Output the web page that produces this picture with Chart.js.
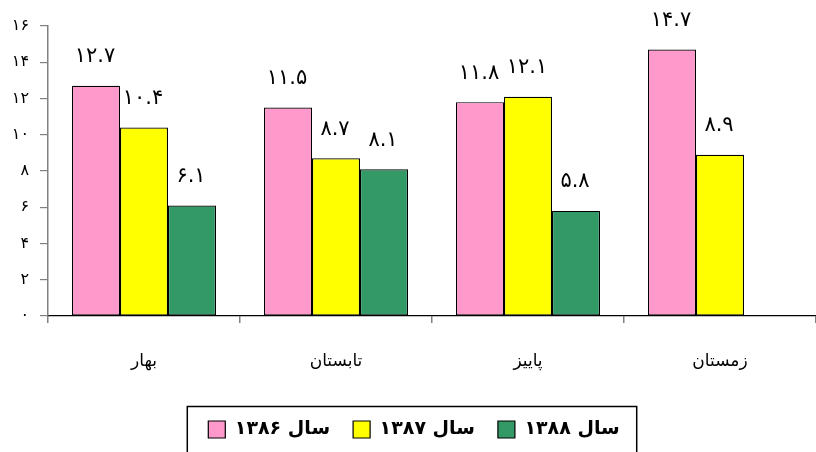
<!DOCTYPE html>
<html lang="fa">

<head>
    <meta charset="UTF-8">
    <title>Seasonal chart</title>
    <script src="https://cdn.jsdelivr.net/npm/chart.js"></script>
    <style>
        body {
            margin: 0;
            padding: 0;
            background: #ffffff;
        }

        #wrap {
            width: 816px;
            height: 452px;
        }
    </style>
</head>

<body>
    <div id="wrap">
        <canvas id="seasonChart" width="816" height="452"></canvas>
    </div>

    <script>
        // data
        const seasons = ['بهار', 'تابستان', 'پاییز', 'زمستان'];
        const yearLabels = ['سال ۱۳۸۶', 'سال ۱۳۸۷', 'سال ۱۳۸۸'];
        const values1386 = [12.7, 11.5, 11.8, 14.7];
        const values1387 = [10.4, 8.7, 12.1, 8.9];
        const values1388 = [6.1, 8.1, 5.8, null];
        const yTicks = [0, 2, 4, 6, 8, 10, 12, 14, 16];

        const barColors = ['#FF99CC', '#FFFF00', '#339966'];
        const faFont = "'DejaVu Sans', sans-serif";

        const toFa = (s) => String(s).replace(/\d/g, (d) => '۰۱۲۳۴۵۶۷۸۹'[d]);

        // value labels above each bar
        const barLabels = {
            id: 'barLabels',
            afterDatasetsDraw(chart) {
                const c = chart.ctx;
                c.save();
                c.font = '21px ' + faFont;
                c.fillStyle = '#000000';
                c.textAlign = 'center';
                c.textBaseline = 'middle';
                chart.data.datasets.forEach((ds, i) => {
                    const meta = chart.getDatasetMeta(i);
                    meta.data.forEach((bar, j) => {
                        const v = ds.data[j];
                        if (v === null || v === undefined) return;
                        c.fillText(toFa(v.toFixed(1)), bar.x - 1, bar.y - 29);
                    });
                });
                c.restore();
            }
        };

        // frame round the legend
        const legendFrame = {
            id: 'legendFrame',
            afterDraw(chart) {
                const boxes = chart.legend && chart.legend.legendHitBoxes;
                if (!boxes || !boxes.length) return;
                const first = boxes[0];
                const last = boxes[boxes.length - 1];
                const mid = first.top + first.height / 2;
                const c = chart.ctx;
                c.save();
                c.strokeStyle = '#000000';
                c.lineWidth = 1.5;
                c.strokeRect(first.left - 21, mid - 23, last.left + last.width - first.left + 38, 60);
                c.restore();
            }
        };

        const ctx = document.getElementById('seasonChart').getContext('2d');

        const chart = new Chart(ctx, {
            type: 'bar',
            data: {
                labels: seasons,
                datasets: [
                    { label: yearLabels[0], data: values1386, backgroundColor: barColors[0] },
                    { label: yearLabels[1], data: values1387, backgroundColor: barColors[1] },
                    { label: yearLabels[2], data: values1388, backgroundColor: barColors[2] },
                ].map((d) => Object.assign(d, {
                    borderColor: '#000000',
                    borderWidth: 1.2,
                    borderSkipped: false,
                    categoryPercentage: 0.75,
                    barPercentage: 1.0,
                })),
            },
            options: {
                responsive: false,
                animation: false,
                layout: {
                    padding: { top: 26, left: 12, right: 0, bottom: 3 },
                },
                scales: {
                    x: {
                        afterFit: (scale) => { scale.height = 81; },
                        grid: {
                            display: true,
                            offset: true,
                            drawOnChartArea: false,
                            drawTicks: true,
                            tickLength: 7,
                            color: '#808080',
                            lineWidth: 1.5,
                        },
                        border: { display: true, color: '#000000', width: 1.2 },
                        ticks: {
                            padding: 28,
                            color: '#000000',
                            font: { family: faFont, size: 17 },
                        },
                    },
                    y: {
                        min: 0,
                        max: 16,
                        afterFit: (scale) => { scale.width = 36; },
                        afterBuildTicks: (scale) => { scale.ticks = yTicks.map((v) => ({ value: v })); },
                        grid: {
                            display: true,
                            drawOnChartArea: false,
                            drawTicks: true,
                            tickLength: 8,
                            color: '#808080',
                            lineWidth: 1.2,
                        },
                        border: { display: true, color: '#808080', width: 1.5 },
                        ticks: {
                            padding: 11,
                            color: '#000000',
                            font: { family: faFont, size: 16 },
                            callback: (v) => toFa(v),
                        },
                    },
                },
                plugins: {
                    legend: {
                        display: true,
                        position: 'bottom',
                        labels: {
                            boxWidth: 17,
                            boxHeight: 17,
                            padding: 23,
                            color: '#000000',
                            font: { family: faFont, size: 19, weight: 'bold' },
                        },
                    },
                    tooltip: { enabled: false },
                },
            },
            plugins: [barLabels, legendFrame],
        });
    </script>
</body>

</html>
